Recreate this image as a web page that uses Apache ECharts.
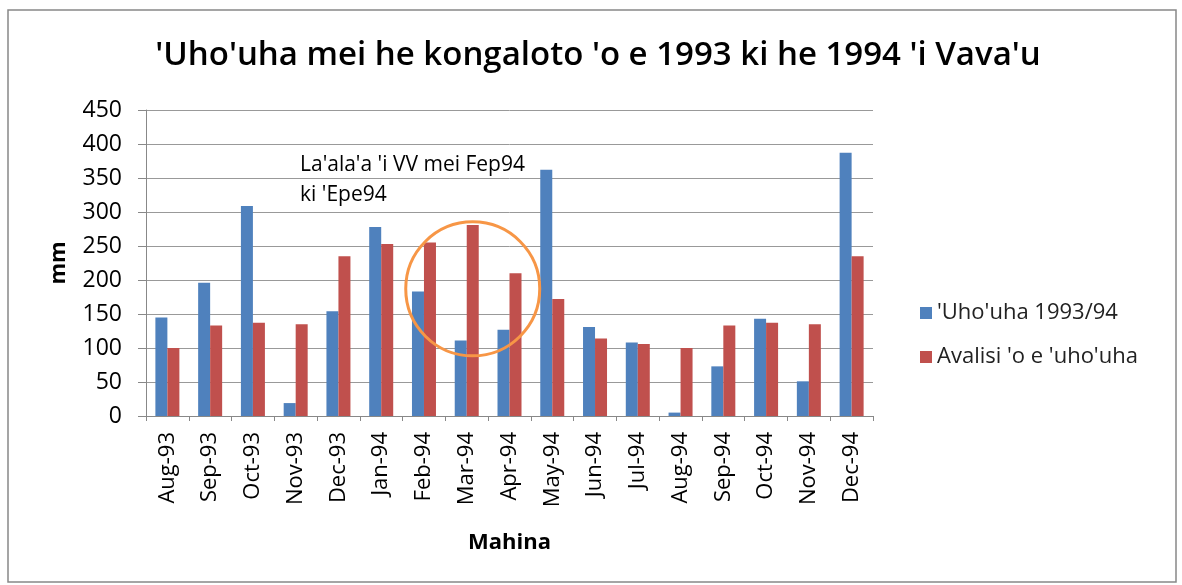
<!DOCTYPE html>
<html>
<head>
<meta charset="utf-8">
<script src="https://cdn.jsdelivr.net/npm/echarts@6/dist/echarts.min.js"></script>
<style>
  html, body { margin: 0; padding: 0; background: #fff; }
  #main { width: 1182px; height: 585px; }
</style>
</head>
<body>
<div id="main"></div>
<script>
// months on the x axis
var months = ['Aug-93', 'Sep-93', 'Oct-93', 'Nov-93', 'Dec-93', 'Jan-94', 'Feb-94', 'Mar-94', 'Apr-94',
  'May-94', 'Jun-94', 'Jul-94', 'Aug-94', 'Sep-94', 'Oct-94', 'Nov-94', 'Dec-94'];
// rainfall 1993/94 (mm)
var rain9394 = [145, 196, 309, 19, 154, 278, 183, 111, 127, 362, 131, 108, 5, 73, 143, 51, 387];
// average rainfall (mm)
var rainAvg = [100, 133, 137, 135, 235, 253, 255, 281, 210, 172, 114, 106, 100, 133, 137, 135, 235];
var seriesNames = ["'Uho'uha 1993/94", "Avalisi 'o e 'uho'uha"];

var font = "'Open Sans', 'Liberation Sans', sans-serif";
var myChart = echarts.init(document.getElementById('main'));

var option = {
  backgroundColor: '#fff',
  animation: false,
  title: {
    text: "'Uho'uha mei he kongaloto 'o e 1993 ki he 1994 'i Vava'u",
    left: 593,
    textAlign: 'center',
    top: 34,
    textStyle: { fontFamily: font, fontSize: 33, fontWeight: 600, color: '#000' }
  },
  legend: {
    orient: 'vertical',
    left: 915,
    top: 297,
    itemWidth: 12,
    itemHeight: 12,
    itemGap: 22,
    icon: 'rect',
    textStyle: { fontFamily: font, fontSize: 22, color: '#222' },
    data: seriesNames
  },
  grid: { left: 146, right: 309, top: 110, bottom: 169 },
  xAxis: {
    type: 'category',
    data: months,
    name: 'Mahina',
    nameLocation: 'middle',
    nameGap: 116,
    nameTextStyle: { fontFamily: font, fontSize: 22, fontWeight: 'bold', color: '#000' },
    axisLine: { lineStyle: { color: '#888' } },
    axisTick: { show: true, length: 5, lineStyle: { color: '#888' } },
    axisLabel: { rotate: 90, fontFamily: font, fontSize: 22, color: '#000', margin: 16 }
  },
  yAxis: {
    type: 'value',
    min: 0,
    max: 450,
    interval: 50,
    name: 'mm',
    nameLocation: 'middle',
    nameGap: 76,
    nameRotate: 90,
    nameTextStyle: { fontFamily: font, fontSize: 22, fontWeight: 'bold', color: '#000' },
    axisLine: { show: true, lineStyle: { color: '#888' } },
    axisTick: { show: true, length: 8, lineStyle: { color: '#888' } },
    axisLabel: { fontFamily: font, fontSize: 23, color: '#000', margin: 24 },
    splitLine: { lineStyle: { color: '#999', width: 1 } }
  },
  series: [
    {
      name: seriesNames[0],
      type: 'bar',
      data: rain9394,
      barWidth: 12,
      barGap: '0%',
      itemStyle: { color: '#4f81bd' }
    },
    {
      name: seriesNames[1],
      type: 'bar',
      data: rainAvg,
      barWidth: 12,
      barGap: '0%',
      itemStyle: { color: '#c0504d' },
      // orange circle highlighting Feb-Apr 94
      markPoint: {
        silent: true,
        symbol: 'circle',
        symbolSize: 134,
        label: { show: false },
        itemStyle: { color: 'rgba(0,0,0,0)', borderColor: '#f79646', borderWidth: 3 },
        data: [{ coord: ['Mar-94', 187] }]
      }
    }
  ],
  graphic: [
    {
      type: 'rect',
      shape: { x: 8, y: 10, width: 1168, height: 572 },
      style: { fill: 'none', stroke: '#888', lineWidth: 1.5 }
    },
    {
      type: 'text',
      left: 300,
      top: 150,
      style: {
        text: "La'ala'a 'i VV mei Fep94\nki 'Epe94",
        fontFamily: font,
        fontSize: 21,
        lineHeight: 30,
        fill: '#000'
      }
    }
  ]
};

if (option && typeof option === "object") {
  myChart.setOption(option);
}
</script>
</body>
</html>
